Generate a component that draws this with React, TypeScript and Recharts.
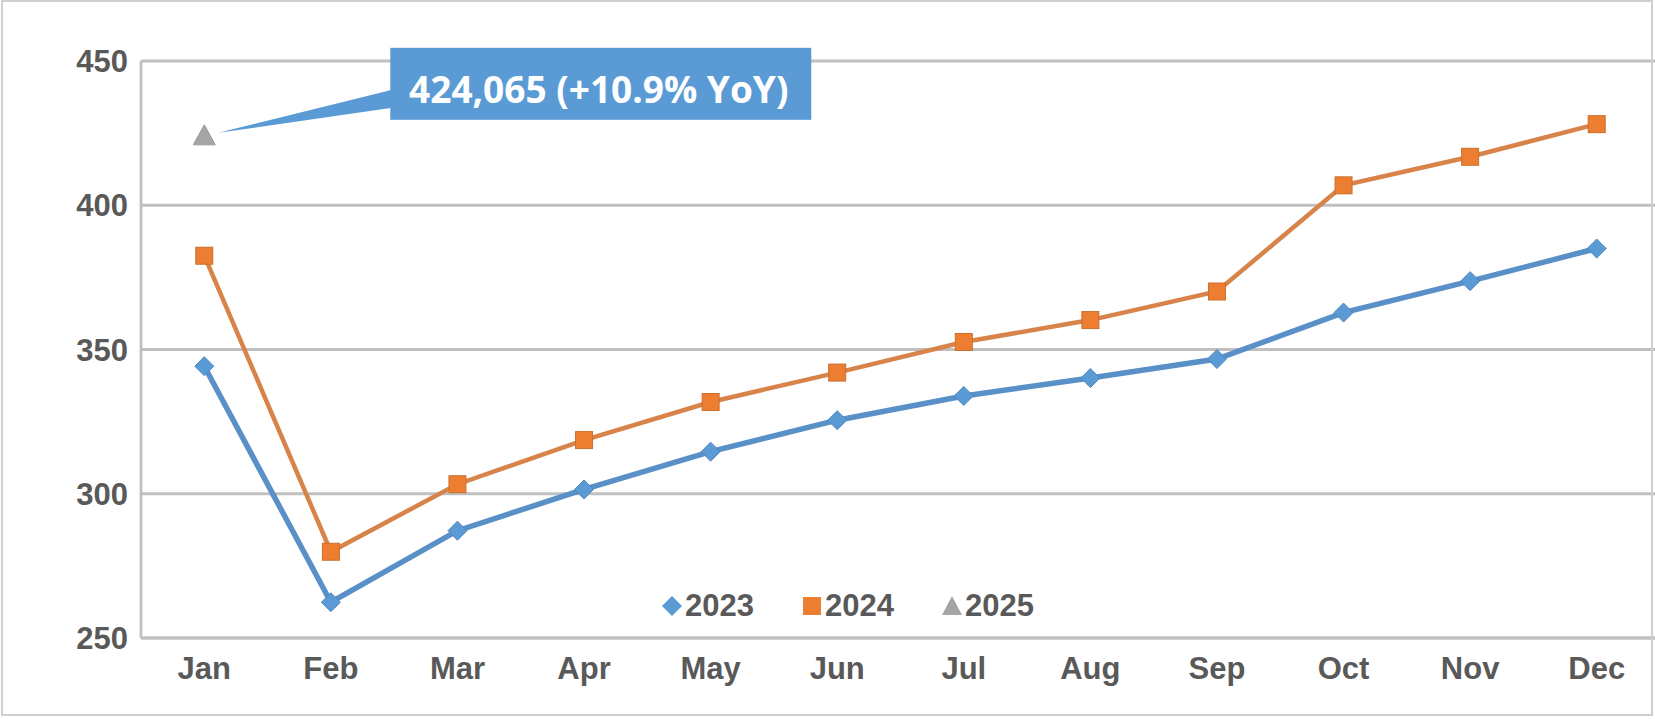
import React from "react";
import { LineChart, Line, XAxis, YAxis, CartesianGrid, Legend } from "recharts";

const months = ["Jan", "Feb", "Mar", "Apr", "May", "Jun", "Jul", "Aug", "Sep", "Oct", "Nov", "Dec"];
const values2023 = [344.2, 262.4, 287.2, 301.5, 314.6, 325.5, 333.9, 340.1, 346.7, 362.8, 373.7, 385.0];
const values2024 = [382.5, 279.9, 303.3, 318.6, 331.8, 342.0, 352.6, 360.2, 370.1, 406.9, 416.8, 428.1];
const values2025: (number | null)[] = [424.065, null, null, null, null, null, null, null, null, null, null, null];
const yTicks = [250, 300, 350, 400, 450];
const calloutText = "424,065 (+10.9% YoY)";

const data = months.map((m, i) => ({
  month: m,
  y2023: values2023[i],
  y2024: values2024[i],
  y2025: values2025[i],
}));

const BLUE = "#5B9BD5";
const BLUE_LINE = "#5A90C8";
const ORANGE = "#ED7D31";
const ORANGE_LINE = "#D8834A";
const GRAY = "#A5A5A5";
const GRID = "#C0C0C0";
const TEXT = "#595959";
const FONT = "'Liberation Sans', Arial, sans-serif";

const Diamond = (props: any) => {
  const { cx, cy } = props;
  if (cx == null || cy == null) return null;
  const r = 9.5;
  return (
    <polygon
      points={`${cx},${cy - r} ${cx + r},${cy} ${cx},${cy + r} ${cx - r},${cy}`}
      fill={BLUE}
      stroke="#4F86BD"
      strokeWidth={1}
    />
  );
};

const Square = (props: any) => {
  const { cx, cy } = props;
  if (cx == null || cy == null) return null;
  const s = 17;
  return <rect x={cx - s / 2} y={cy - s / 2} width={s} height={s} fill={ORANGE} stroke="#C9702F" strokeWidth={1} />;
};

const Triangle = (props: any) => {
  const { cx, cy } = props;
  if (cx == null || cy == null) return null;
  return (
    <polygon
      points={`${cx},${cy - 11} ${cx + 11},${cy + 9} ${cx - 11},${cy + 9}`}
      fill={GRAY}
      stroke="#999"
      strokeWidth={1}
    />
  );
};

const Callout = (props: any) => {
  const { x, y, value } = props;
  if (value == null || x == null || y == null) return null;
  const bx = x + 186;
  const by = y - 88;
  const bw = 421;
  const bh = 72;
  return (
    <g>
      <polygon points={`${x + 14},${y - 3} ${bx + 2},${y - 46} ${bx + 2},${y - 28}`} fill={BLUE} />
      <rect x={bx} y={by} width={bw} height={bh} fill={BLUE} />
      <text
        x={bx + bw / 2 - 2}
        y={by + 55}
        textAnchor="middle"
        fill="#FFFFFF"
        fontFamily="'Open Sans', 'Noto Sans', sans-serif"
        fontWeight={700}
        fontSize={37}
      >
        {calloutText}
      </text>
    </g>
  );
};

const legendItems = [
  { label: "2023", shape: "diamond", color: BLUE },
  { label: "2024", shape: "square", color: ORANGE },
  { label: "2025", shape: "triangle", color: GRAY },
];

const LegendContent = () => (
  <div style={{ display: "flex", alignItems: "center", fontFamily: FONT, fontWeight: 700, fontSize: 31, color: TEXT }}>
    {legendItems.map((it, i) => (
      <div key={it.label} style={{ display: "flex", alignItems: "center", marginLeft: i === 0 ? 0 : 48 }}>
        <svg width={20} height={20} style={{ marginRight: 3 }}>
          {it.shape === "diamond" && <polygon points="10,0 20,10 10,20 0,10" fill={it.color} />}
          {it.shape === "square" && <rect x={1} y={1} width={18} height={18} fill={it.color} />}
          {it.shape === "triangle" && <polygon points="10,0 20,19 0,19" fill={it.color} />}
        </svg>
        <span style={{ lineHeight: "31px" }}>{it.label}</span>
      </div>
    ))}
  </div>
);

export default function App() {
  return (
    <div
      style={{
        position: "fixed",
        left: 0,
        top: 0,
        width: 1655,
        height: 719,
        overflow: "hidden",
        background: "#FFFFFF",
      }}
    >
      <LineChart
        width={1666}
        height={719}
        data={data}
        margin={{ top: 61, right: 6, bottom: 0, left: 0 }}
        style={{ position: "absolute", left: 0, top: 0 }}
      >
        <CartesianGrid horizontal vertical={false} stroke={GRID} strokeWidth={2.8} />
        <XAxis
          dataKey="month"
          scale="band"
          height={81}
          axisLine={{ stroke: GRID, strokeWidth: 2.8 }}
          tickLine={false}
          tickSize={0}
          tickMargin={19}
          tick={{ fill: TEXT, fontFamily: FONT, fontWeight: 700, fontSize: 31 }}
          interval={0}
        />
        <YAxis
          width={141}
          domain={[250, 450]}
          ticks={yTicks}
          allowDataOverflow
          axisLine={{ stroke: GRID, strokeWidth: 2.8 }}
          tickLine={false}
          tickSize={0}
          tickMargin={13}
          tick={{ fill: TEXT, fontFamily: FONT, fontWeight: 700, fontSize: 31 }}
        />
        <Legend
          layout="horizontal"
          verticalAlign="middle"
          align="center"
          content={<LegendContent />}
          wrapperStyle={{ position: "absolute", left: 662, top: 590, width: "auto", height: 31 }}
        />
        <Line
          dataKey="y2023"
          name="2023"
          stroke={BLUE_LINE}
          strokeWidth={5.5}
          dot={<Diamond />}
          activeDot={false}
          isAnimationActive={false}
        />
        <Line
          dataKey="y2024"
          name="2024"
          stroke={ORANGE_LINE}
          strokeWidth={4.5}
          dot={<Square />}
          activeDot={false}
          isAnimationActive={false}
        />
        <Line
          dataKey="y2025"
          name="2025"
          stroke={GRAY}
          strokeWidth={0}
          dot={<Triangle />}
          activeDot={false}
          label={<Callout />}
          isAnimationActive={false}
        />
      </LineChart>
      <div
        style={{
          position: "absolute",
          left: 1,
          top: 0,
          width: 1652,
          height: 716,
          border: "2.5px solid #D0D0D0",
          boxSizing: "border-box",
          pointerEvents: "none",
        }}
      />
    </div>
  );
}
